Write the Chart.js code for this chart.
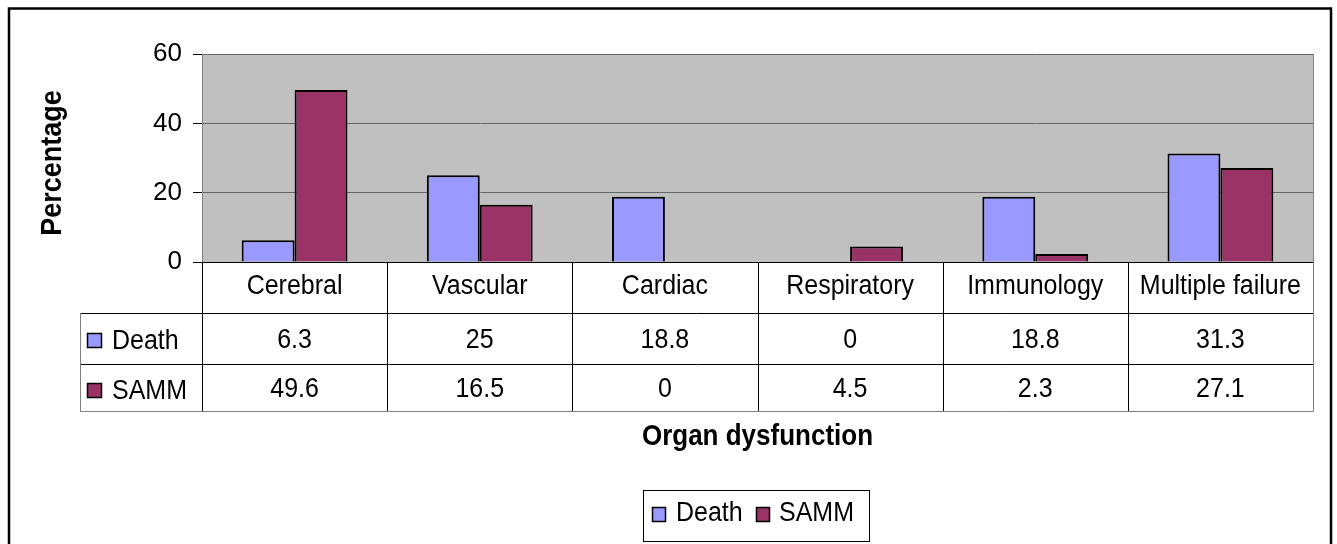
<!DOCTYPE html>
<html>
<head>
<meta charset="utf-8">
<script src="https://cdn.jsdelivr.net/npm/chart.js@4"></script>
<style>
html,body{margin:0;padding:0;background:#fff;}
canvas{display:block;}
</style>
</head>
<body>
<canvas id="c" width="1337" height="544"></canvas>
<script>
const categories = ["Cerebral", "Vascular", "Cardiac", "Respiratory", "Immunology", "Multiple failure"];
const deathValues = [6.3, 25, 18.8, 0, 18.8, 31.3];
const sammValues = [49.6, 16.5, 0, 4.5, 2.3, 27.1];
const seriesNames = ["Death", "SAMM"];
const yTicks = [0, 20, 40, 60];
const yTitle = "Percentage";
const xTitle = "Organ dysfunction";

const FONT = '"Liberation Sans", Arial, sans-serif';
const colors = ["#9999FF", "#993366"];

function txt(ctx, s, x, y, font, align, sy) {
  ctx.save();
  ctx.font = font;
  ctx.textAlign = align;
  ctx.textBaseline = 'middle';
  ctx.translate(x, y);
  ctx.scale(1, sy || 1.1);
  ctx.fillText(s, 0, 0);
  ctx.restore();
}

const extras = {
  id: 'extras',
  beforeDraw(chart) {
    const ctx = chart.ctx, a = chart.chartArea;
    ctx.save();
    ctx.fillStyle = '#fff';
    ctx.fillRect(0, 0, chart.width, chart.height);
    ctx.fillStyle = '#C0C0C0';
    ctx.fillRect(a.left, a.top, a.right - a.left, a.bottom - a.top);
    ctx.restore();
  },
  afterDraw(chart) {
    const ctx = chart.ctx, a = chart.chartArea;
    const xs = chart.scales.x;
    const n = categories.length;
    const colW = (a.right - a.left) / n;
    const rowTop = a.bottom, row1 = a.bottom + 51, row2 = a.bottom + 102, row3 = a.bottom + 149;
    const leftCol = 80;
    ctx.save();
    ctx.fillStyle = '#000';
    // plot right border
    ctx.strokeStyle = '#808080';
    ctx.lineWidth = 1;
    ctx.beginPath();
    ctx.moveTo(a.right + 0.5, a.top);
    ctx.lineTo(a.right + 0.5, a.bottom);
    ctx.stroke();

    // table inner lines
    ctx.strokeStyle = '#000';
    ctx.beginPath();
    for (let i = 0; i < n; i++) {
      const x = Math.round(xs.getPixelForValue(i) - colW / 2) + 0.5;
      ctx.moveTo(x, rowTop);
      ctx.lineTo(x, row3);
    }
    ctx.moveTo(leftCol, row1 + 0.5); ctx.lineTo(a.right, row1 + 0.5);
    ctx.moveTo(leftCol, row2 + 0.5); ctx.lineTo(a.right, row2 + 0.5);
    ctx.stroke();
    // table outer lines
    ctx.strokeStyle = '#808080';
    ctx.beginPath();
    ctx.moveTo(leftCol + 0.5, row1); ctx.lineTo(leftCol + 0.5, row3 + 0.5);
    ctx.lineTo(a.right + 0.5, row3 + 0.5);
    ctx.lineTo(a.right + 0.5, rowTop);
    ctx.stroke();

    // table text
    const f = '25px ' + FONT;
    const rows = [deathValues, sammValues];
    for (let i = 0; i < n; i++) {
      const cx = xs.getPixelForValue(i);
      txt(ctx, categories[i], cx, rowTop + 24, f, 'center');
      txt(ctx, String(rows[0][i]), cx, row1 + 27, f, 'center');
      txt(ctx, String(rows[1][i]), cx, row2 + 25, f, 'center');
    }
    // row legend keys
    const keyY = [row1 + 20, row2 + 19];
    for (let s = 0; s < 2; s++) {
      ctx.fillStyle = colors[s];
      ctx.fillRect(87, keyY[s], 15, 15);
      ctx.strokeStyle = '#000';
      ctx.lineWidth = 1.5;
      ctx.strokeRect(87.5, keyY[s] + 0.5, 14, 14);
      ctx.fillStyle = '#000';
      txt(ctx, seriesNames[s], 112, keyY[s] + 8, f, 'left');
    }

    // axis titles
    const pcx = (a.left + a.right) / 2;
    txt(ctx, xTitle, pcx, 437, 'bold 26px ' + FONT, 'center');
    ctx.save();
    ctx.translate(52.5, (a.top + a.bottom) / 2 + 5);
    ctx.rotate(-Math.PI / 2);
    ctx.font = 'bold 27px ' + FONT;
    ctx.textAlign = 'center';
    ctx.textBaseline = 'middle';
    ctx.scale(1, 1.1);
    ctx.fillText(yTitle, 0, 0);
    ctx.restore();

    // legend
    const lx = Math.round(pcx) - 115;
    ctx.strokeStyle = '#000';
    ctx.lineWidth = 1;
    ctx.strokeRect(lx + 0.5, 490.5, 226, 51);
    const keyX = [lx + 9, lx + 113];
    const txtX = [lx + 33, lx + 136];
    for (let s = 0; s < 2; s++) {
      ctx.fillStyle = colors[s];
      ctx.fillRect(keyX[s], 507, 14, 15);
      ctx.strokeStyle = '#000';
      ctx.lineWidth = 1.5;
      ctx.strokeRect(keyX[s] + 0.5, 507.5, 13, 14);
      ctx.fillStyle = '#000';
      txt(ctx, seriesNames[s], txtX[s], 513, f, 'left');
    }

    // outer frame
    ctx.strokeStyle = '#000';
    ctx.lineWidth = 2.5;
    ctx.strokeRect(9, 8.5, 1322, 600);
    ctx.restore();
  }
};

new Chart(document.getElementById('c'), {
  type: 'bar',
  data: {
    labels: categories,
    datasets: [
      { label: seriesNames[0], data: deathValues, backgroundColor: colors[0], borderColor: '#000', borderWidth: 2 },
      { label: seriesNames[1], data: sammValues, backgroundColor: colors[1], borderColor: '#000', borderWidth: 2 }
    ]
  },
  options: {
    responsive: false,
    animation: false,
    devicePixelRatio: 1,
    layout: { padding: { left: 0, right: 24, top: 54, bottom: 282 } },
    datasets: { bar: { categoryPercentage: 2 / 3.5, barPercentage: 1 } },
    plugins: { legend: { display: false }, tooltip: { enabled: false }, title: { display: false } },
    scales: {
      x: { display: false, offset: true },
      y: {
        min: 0, max: 60,
        afterFit(scale) { scale.width = 202; },
        afterBuildTicks(scale) { scale.ticks = yTicks.map(v => ({ value: v })); },
        ticks: { padding: 11, color: '#000', font: { family: FONT, size: 26 } },
        grid: {
          color: ctx => (ctx.tick && ctx.tick.value === 0) ? '#000' : '#666',
          tickColor: '#000',
          tickLength: 9,
          lineWidth: 1
        },
        border: { color: '#808080', width: 1 }
      }
    }
  },
  plugins: [extras]
});
</script>
</body>
</html>
